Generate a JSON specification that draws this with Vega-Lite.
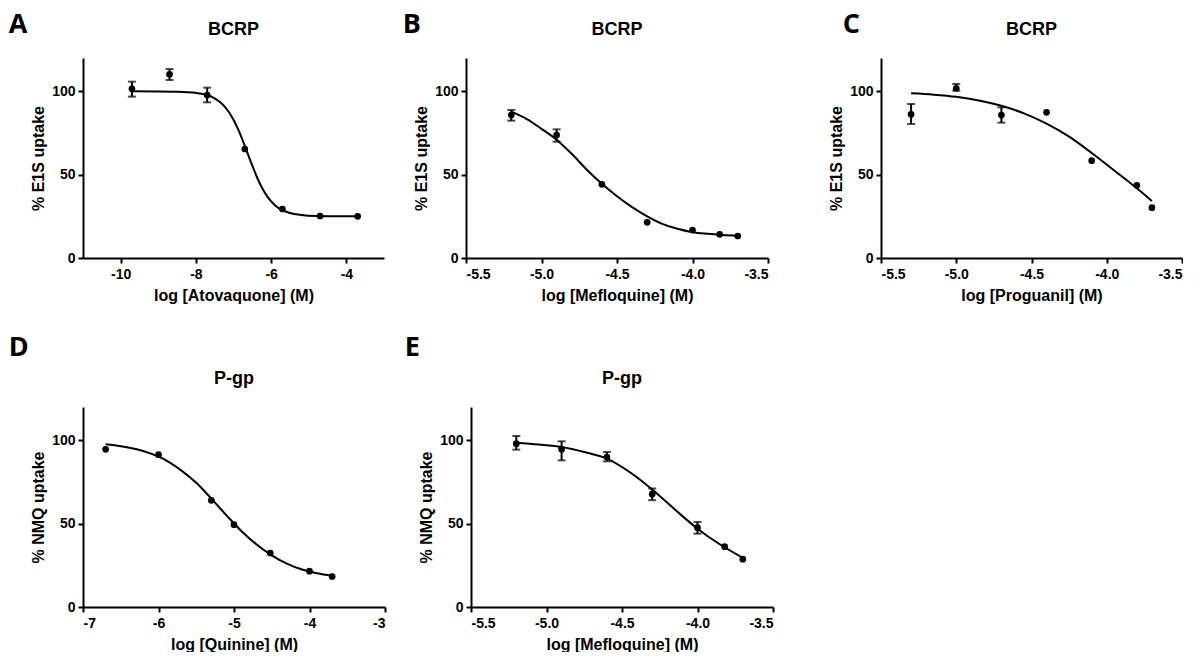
{
  "$schema": "https://vega.github.io/schema/vega-lite/v6.json",
  "background": "white",
  "padding": {"left": 8, "top": 11, "right": 0, "bottom": 0},
  "datasets": {
    "pts": [
      {"panel": "A", "x": -9.7, "y": 101.5, "lo": 96.8, "hi": 105.8},
      {"panel": "A", "x": -8.7, "y": 110.2, "lo": 106.8, "hi": 113.4},
      {"panel": "A", "x": -7.7, "y": 97.8, "lo": 93.4, "hi": 102.2},
      {"panel": "A", "x": -6.7, "y": 65.4},
      {"panel": "A", "x": -5.7, "y": 29.4},
      {"panel": "A", "x": -4.7, "y": 25.2},
      {"panel": "A", "x": -3.7, "y": 25.0},
      {"panel": "B", "x": -5.2, "y": 85.8, "lo": 82.4, "hi": 88.8},
      {"panel": "B", "x": -4.9, "y": 73.8, "lo": 69.8, "hi": 77.2},
      {"panel": "B", "x": -4.6, "y": 44.2},
      {"panel": "B", "x": -4.3, "y": 21.4},
      {"panel": "B", "x": -4.0, "y": 16.8},
      {"panel": "B", "x": -3.82, "y": 14.2},
      {"panel": "B", "x": -3.7, "y": 13.2},
      {"panel": "C", "x": -5.3, "y": 86.2, "lo": 80.4, "hi": 92.4},
      {"panel": "C", "x": -5.0, "y": 101.8, "lo": 100.4, "hi": 104.4},
      {"panel": "C", "x": -4.7, "y": 85.8, "lo": 81.2, "hi": 90.4},
      {"panel": "C", "x": -4.4, "y": 87.4},
      {"panel": "C", "x": -4.1, "y": 58.4},
      {"panel": "C", "x": -3.8, "y": 43.6},
      {"panel": "C", "x": -3.7, "y": 30.2},
      {"panel": "D", "x": -6.7, "y": 94.6},
      {"panel": "D", "x": -6.0, "y": 91.4},
      {"panel": "D", "x": -5.3, "y": 64.0},
      {"panel": "D", "x": -5.0, "y": 49.4},
      {"panel": "D", "x": -4.52, "y": 32.4},
      {"panel": "D", "x": -4.0, "y": 21.5},
      {"panel": "D", "x": -3.7, "y": 18.3},
      {"panel": "E", "x": -5.2, "y": 98.0, "lo": 94.4, "hi": 102.6},
      {"panel": "E", "x": -4.9, "y": 94.6, "lo": 88.0, "hi": 99.4},
      {"panel": "E", "x": -4.6, "y": 90.0, "lo": 87.4, "hi": 93.0},
      {"panel": "E", "x": -4.3, "y": 67.7, "lo": 64.1, "hi": 71.1},
      {"panel": "E", "x": -4.0, "y": 47.6, "lo": 44.0, "hi": 51.0},
      {"panel": "E", "x": -3.82, "y": 36.2},
      {"panel": "E", "x": -3.7, "y": 28.7}
    ],
    "fit": [
      {"panel": "A", "x": -9.7, "y": 100.0},
      {"panel": "A", "x": -9.0, "y": 99.96},
      {"panel": "A", "x": -8.5, "y": 99.8},
      {"panel": "A", "x": -8.0, "y": 99.1},
      {"panel": "A", "x": -7.75, "y": 98.1},
      {"panel": "A", "x": -7.5, "y": 95.8},
      {"panel": "A", "x": -7.25, "y": 91.3},
      {"panel": "A", "x": -7.0, "y": 83.0},
      {"panel": "A", "x": -6.85, "y": 75.8},
      {"panel": "A", "x": -6.7, "y": 67.3},
      {"panel": "A", "x": -6.55, "y": 58.3},
      {"panel": "A", "x": -6.4, "y": 49.8},
      {"panel": "A", "x": -6.25, "y": 42.4},
      {"panel": "A", "x": -6.1, "y": 36.8},
      {"panel": "A", "x": -5.9, "y": 31.7},
      {"panel": "A", "x": -5.7, "y": 28.7},
      {"panel": "A", "x": -5.5, "y": 27.0},
      {"panel": "A", "x": -5.2, "y": 25.8},
      {"panel": "A", "x": -4.8, "y": 25.2},
      {"panel": "A", "x": -4.2, "y": 25.05},
      {"panel": "A", "x": -3.7, "y": 25.0},
      {"panel": "B", "x": -5.2, "y": 87.8},
      {"panel": "B", "x": -5.1, "y": 83.5},
      {"panel": "B", "x": -5.0, "y": 77.5},
      {"panel": "B", "x": -4.9, "y": 71.0},
      {"panel": "B", "x": -4.8, "y": 62.5},
      {"panel": "B", "x": -4.7, "y": 53.0},
      {"panel": "B", "x": -4.6, "y": 44.5},
      {"panel": "B", "x": -4.5, "y": 37.0},
      {"panel": "B", "x": -4.4, "y": 30.5},
      {"panel": "B", "x": -4.3, "y": 25.0},
      {"panel": "B", "x": -4.2, "y": 20.5},
      {"panel": "B", "x": -4.1, "y": 17.5},
      {"panel": "B", "x": -4.0, "y": 15.5},
      {"panel": "B", "x": -3.9, "y": 14.5},
      {"panel": "B", "x": -3.8, "y": 13.8},
      {"panel": "B", "x": -3.7, "y": 13.3},
      {"panel": "C", "x": -5.3, "y": 98.8},
      {"panel": "C", "x": -5.15, "y": 98.0},
      {"panel": "C", "x": -5.0, "y": 96.7},
      {"panel": "C", "x": -4.85, "y": 94.5},
      {"panel": "C", "x": -4.7, "y": 91.3},
      {"panel": "C", "x": -4.55, "y": 86.8},
      {"panel": "C", "x": -4.4, "y": 80.6},
      {"panel": "C", "x": -4.25, "y": 72.8},
      {"panel": "C", "x": -4.1, "y": 63.0},
      {"panel": "C", "x": -3.95, "y": 52.5},
      {"panel": "C", "x": -3.8, "y": 41.8},
      {"panel": "C", "x": -3.7, "y": 34.2},
      {"panel": "D", "x": -6.7, "y": 97.6},
      {"panel": "D", "x": -6.5, "y": 96.5},
      {"panel": "D", "x": -6.3, "y": 94.8},
      {"panel": "D", "x": -6.1, "y": 92.0},
      {"panel": "D", "x": -5.9, "y": 88.0},
      {"panel": "D", "x": -5.7, "y": 82.0},
      {"panel": "D", "x": -5.5, "y": 74.5},
      {"panel": "D", "x": -5.3, "y": 65.0},
      {"panel": "D", "x": -5.1, "y": 55.0},
      {"panel": "D", "x": -4.9, "y": 45.5},
      {"panel": "D", "x": -4.7, "y": 37.5},
      {"panel": "D", "x": -4.5, "y": 31.0},
      {"panel": "D", "x": -4.3, "y": 26.0},
      {"panel": "D", "x": -4.1, "y": 22.5},
      {"panel": "D", "x": -3.9, "y": 20.3},
      {"panel": "D", "x": -3.7, "y": 18.8},
      {"panel": "E", "x": -5.2, "y": 98.6},
      {"panel": "E", "x": -5.05, "y": 97.5},
      {"panel": "E", "x": -4.9, "y": 96.0},
      {"panel": "E", "x": -4.75, "y": 93.0},
      {"panel": "E", "x": -4.6, "y": 89.0},
      {"panel": "E", "x": -4.45, "y": 81.0},
      {"panel": "E", "x": -4.3, "y": 70.5},
      {"panel": "E", "x": -4.15, "y": 58.5},
      {"panel": "E", "x": -4.0, "y": 47.0},
      {"panel": "E", "x": -3.85, "y": 37.5},
      {"panel": "E", "x": -3.7, "y": 29.5}
    ]
  },
  "spacing": 31,
  "vconcat": [
    {
      "spacing": 59,
      "hconcat": [
        {
          "spacing": 18,
          "hconcat": [
            {
              "title": {"text": "A", "anchor": "start", "frame": "bounds", "font": "Open Sans", "fontSize": 27, "fontWeight": "bold", "color": "black", "offset": 0, "dy": 18, "dx": -22},
              "vconcat": [
                {
                  "width": 301, "height": 200,
                  "title": {"text": "BCRP", "offset": 19},
                  "layer": [
                    {"data": {"name": "fit"}, "transform": [{"filter": "datum.panel === 'A'"}],
                     "mark": {"type": "line", "color": "black", "strokeWidth": 2, "interpolate": "monotone"},
                     "encoding": {
                       "x": {"field": "x", "type": "quantitative", "title": "log [Atovaquone] (M)", "scale": {"domain": [-11, -3], "nice": false, "zero": false}, "axis": {"values": [-10, -8, -6, -4], "format": "d"}},
                       "y": {"field": "y", "type": "quantitative", "title": "% E1S uptake", "scale": {"domain": [0, 120], "nice": false}, "axis": {"values": [0, 50, 100], "format": "d"}}}},
                    {"data": {"name": "pts"}, "transform": [{"filter": "datum.panel === 'A' && isValid(datum.lo)"}],
                     "mark": {"type": "errorbar", "color": "black", "thickness": 2, "ticks": {"size": 8, "thickness": 2, "color": "black"}},
                     "encoding": {
                       "x": {"field": "x", "type": "quantitative", "title": "log [Atovaquone] (M)"},
                       "y": {"field": "lo", "type": "quantitative", "title": "% E1S uptake"},
                       "y2": {"field": "hi"}}},
                    {"data": {"name": "pts"}, "transform": [{"filter": "datum.panel === 'A'"}],
                     "mark": {"type": "circle", "size": 45, "color": "black", "opacity": 1},
                     "encoding": {
                       "x": {"field": "x", "type": "quantitative", "title": "log [Atovaquone] (M)"},
                       "y": {"field": "y", "type": "quantitative", "title": "% E1S uptake"}}}
                  ]
                }
              ]
            },
            {
              "title": {"text": "B", "anchor": "start", "frame": "bounds", "font": "Open Sans", "fontSize": 27, "fontWeight": "bold", "color": "black", "offset": 0, "dy": 18, "dx": -11},
              "vconcat": [
                {
                  "width": 302, "height": 200,
                  "title": {"text": "BCRP", "offset": 19},
                  "layer": [
                    {"data": {"name": "fit"}, "transform": [{"filter": "datum.panel === 'B'"}],
                     "mark": {"type": "line", "color": "black", "strokeWidth": 2, "interpolate": "monotone"},
                     "encoding": {
                       "x": {"field": "x", "type": "quantitative", "title": "log [Mefloquine] (M)", "scale": {"domain": [-5.5, -3.5], "nice": false, "zero": false}, "axis": {"values": [-5.5, -5.0, -4.5, -4.0, -3.5], "format": ".1f"}},
                       "y": {"field": "y", "type": "quantitative", "title": "% E1S uptake", "scale": {"domain": [0, 120], "nice": false}, "axis": {"values": [0, 50, 100], "format": "d"}}}},
                    {"data": {"name": "pts"}, "transform": [{"filter": "datum.panel === 'B' && isValid(datum.lo)"}],
                     "mark": {"type": "errorbar", "color": "black", "thickness": 2, "ticks": {"size": 8, "thickness": 2, "color": "black"}},
                     "encoding": {
                       "x": {"field": "x", "type": "quantitative", "title": "log [Mefloquine] (M)"},
                       "y": {"field": "lo", "type": "quantitative", "title": "% E1S uptake"},
                       "y2": {"field": "hi"}}},
                    {"data": {"name": "pts"}, "transform": [{"filter": "datum.panel === 'B'"}],
                     "mark": {"type": "circle", "size": 45, "color": "black", "opacity": 1},
                     "encoding": {
                       "x": {"field": "x", "type": "quantitative", "title": "log [Mefloquine] (M)"},
                       "y": {"field": "y", "type": "quantitative", "title": "% E1S uptake"}}}
                  ]
                }
              ]
            }
          ]
        },
        {
          "title": {"text": "C", "anchor": "start", "frame": "bounds", "font": "Open Sans", "fontSize": 27, "fontWeight": "bold", "color": "black", "offset": 0, "dy": 18, "dx": 14},
          "vconcat": [
            {
              "width": 301, "height": 200,
              "title": {"text": "BCRP", "offset": 19},
              "layer": [
                {"data": {"name": "fit"}, "transform": [{"filter": "datum.panel === 'C'"}],
                 "mark": {"type": "line", "color": "black", "strokeWidth": 2, "interpolate": "monotone"},
                 "encoding": {
                   "x": {"field": "x", "type": "quantitative", "title": "log [Proguanil] (M)", "scale": {"domain": [-5.5, -3.5], "nice": false, "zero": false}, "axis": {"values": [-5.5, -5.0, -4.5, -4.0, -3.5], "format": ".1f"}},
                   "y": {"field": "y", "type": "quantitative", "title": "% E1S uptake", "scale": {"domain": [0, 120], "nice": false}, "axis": {"values": [0, 50, 100], "format": "d"}}}},
                {"data": {"name": "pts"}, "transform": [{"filter": "datum.panel === 'C' && isValid(datum.lo)"}],
                 "mark": {"type": "errorbar", "color": "black", "thickness": 2, "ticks": {"size": 8, "thickness": 2, "color": "black"}},
                 "encoding": {
                   "x": {"field": "x", "type": "quantitative", "title": "log [Proguanil] (M)"},
                   "y": {"field": "lo", "type": "quantitative", "title": "% E1S uptake"},
                   "y2": {"field": "hi"}}},
                {"data": {"name": "pts"}, "transform": [{"filter": "datum.panel === 'C'"}],
                 "mark": {"type": "circle", "size": 45, "color": "black", "opacity": 1},
                 "encoding": {
                   "x": {"field": "x", "type": "quantitative", "title": "log [Proguanil] (M)"},
                   "y": {"field": "y", "type": "quantitative", "title": "% E1S uptake"}}}
              ]
            }
          ]
        }
      ]
    },
    {
      "spacing": 18,
      "hconcat": [
        {
          "title": {"text": "D", "anchor": "start", "frame": "bounds", "font": "Open Sans", "fontSize": 27, "fontWeight": "bold", "color": "black", "offset": 8, "dy": 0, "dx": -22},
          "vconcat": [
            {
              "width": 302, "height": 200,
              "title": {"text": "P-gp", "offset": 19},
              "layer": [
                {"data": {"name": "fit"}, "transform": [{"filter": "datum.panel === 'D'"}],
                 "mark": {"type": "line", "color": "black", "strokeWidth": 2, "interpolate": "monotone"},
                 "encoding": {
                   "x": {"field": "x", "type": "quantitative", "title": "log [Quinine] (M)", "scale": {"domain": [-7, -3], "nice": false, "zero": false}, "axis": {"values": [-7, -6, -5, -4, -3], "format": "d"}},
                   "y": {"field": "y", "type": "quantitative", "title": "% NMQ uptake", "scale": {"domain": [0, 120], "nice": false}, "axis": {"values": [0, 50, 100], "format": "d"}}}},
                {"data": {"name": "pts"}, "transform": [{"filter": "datum.panel === 'D'"}],
                 "mark": {"type": "circle", "size": 45, "color": "black", "opacity": 1},
                 "encoding": {
                   "x": {"field": "x", "type": "quantitative", "title": "log [Quinine] (M)"},
                   "y": {"field": "y", "type": "quantitative", "title": "% NMQ uptake"}}}
              ]
            }
          ]
        },
        {
          "title": {"text": "E", "anchor": "start", "frame": "bounds", "font": "Open Sans", "fontSize": 27, "fontWeight": "bold", "color": "black", "offset": 8, "dy": 0, "dx": -14},
          "vconcat": [
            {
              "width": 302, "height": 200,
              "title": {"text": "P-gp", "offset": 19},
              "layer": [
                {"data": {"name": "fit"}, "transform": [{"filter": "datum.panel === 'E'"}],
                 "mark": {"type": "line", "color": "black", "strokeWidth": 2, "interpolate": "monotone"},
                 "encoding": {
                   "x": {"field": "x", "type": "quantitative", "title": "log [Mefloquine] (M)", "scale": {"domain": [-5.5, -3.5], "nice": false, "zero": false}, "axis": {"values": [-5.5, -5.0, -4.5, -4.0, -3.5], "format": ".1f"}},
                   "y": {"field": "y", "type": "quantitative", "title": "% NMQ uptake", "scale": {"domain": [0, 120], "nice": false}, "axis": {"values": [0, 50, 100], "format": "d"}}}},
                {"data": {"name": "pts"}, "transform": [{"filter": "datum.panel === 'E' && isValid(datum.lo)"}],
                 "mark": {"type": "errorbar", "color": "black", "thickness": 2, "ticks": {"size": 8, "thickness": 2, "color": "black"}},
                 "encoding": {
                   "x": {"field": "x", "type": "quantitative", "title": "log [Mefloquine] (M)"},
                   "y": {"field": "lo", "type": "quantitative", "title": "% NMQ uptake"},
                   "y2": {"field": "hi"}}},
                {"data": {"name": "pts"}, "transform": [{"filter": "datum.panel === 'E'"}],
                 "mark": {"type": "circle", "size": 45, "color": "black", "opacity": 1},
                 "encoding": {
                   "x": {"field": "x", "type": "quantitative", "title": "log [Mefloquine] (M)"},
                   "y": {"field": "y", "type": "quantitative", "title": "% NMQ uptake"}}}
              ]
            }
          ]
        }
      ]
    }
  ],
  "config": {
    "view": {"stroke": null},
    "font": "Liberation Sans",
    "locale": {"number": {"decimal": ".", "thousands": ",", "grouping": [3], "currency": ["$", ""], "minus": "-"}},
    "title": {"font": "Liberation Sans", "fontSize": 18, "fontWeight": "bold", "color": "black"},
    "axis": {
      "grid": false,
      "domainColor": "black", "domainWidth": 2,
      "tickColor": "black", "tickWidth": 2, "tickSize": 5,
      "labelFont": "Liberation Sans", "labelFontSize": 14, "labelFontWeight": "bold", "labelColor": "black", "labelPadding": 3,
      "titleFont": "Liberation Sans", "titleFontSize": 16, "titleFontWeight": "bold", "titleColor": "black", "titlePadding": 6
    },
    "axisX": {"labelPadding": 4},
    "axisY": {"titlePadding": 5}
  }
}
